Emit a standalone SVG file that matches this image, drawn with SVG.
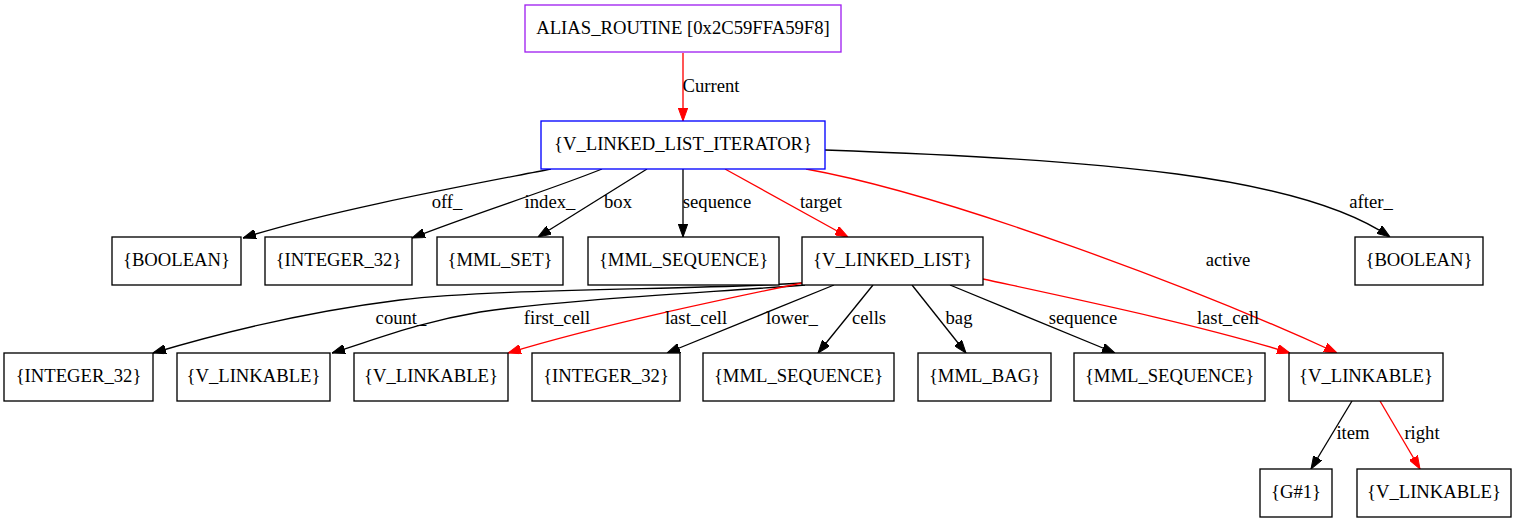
<svg xmlns="http://www.w3.org/2000/svg" width="1516" height="523" viewBox="0 0 1516 523">
<style>
.n{fill:#fff;stroke:#000;stroke-width:1.33}
.t{font-family:'Liberation Serif','DejaVu Serif',serif;font-size:18.67px;fill:#000;text-anchor:middle}
.e{fill:none;stroke:#000;stroke-width:1.33;marker-end:url(#ab)}
.r{fill:none;stroke:#f00;stroke-width:1.33;marker-end:url(#ar)}
</style>
<defs>
<marker id="ab" markerUnits="userSpaceOnUse" viewBox="0 0 13 9.4" markerWidth="13" markerHeight="9.4" refX="13" refY="4.7" orient="auto"><path d="M0,0 L13,4.7 L0,9.4 z" fill="#000" stroke="#000" stroke-width="1"/></marker>
<marker id="ar" markerUnits="userSpaceOnUse" viewBox="0 0 13 9.4" markerWidth="13" markerHeight="9.4" refX="13" refY="4.7" orient="auto"><path d="M0,0 L13,4.7 L0,9.4 z" fill="#f00" stroke="#f00" stroke-width="1"/></marker>
</defs>
<rect width="1516" height="523" fill="#fff"/>
<g id="edges">
<path class="r" d="M683,53 L683,121"/>
<path class="e" d="M551,169 C480,183 330,210 243,238"/>
<path class="e" d="M602,169 C550,190 470,215 412,238"/>
<path class="e" d="M647,169 L538,237"/>
<path class="e" d="M683,169 L683,237"/>
<path class="r" d="M725,169 L848,237"/>
<path class="r" d="M806,169 C950,195 1200,290 1337,353"/>
<path class="e" d="M825,150 C1100,160 1300,175 1390,237"/>
<path class="e" d="M802,283 C700,290 500,288 400,300 C320,310 230,330 153,353"/>
<path class="e" d="M805,285 C700,293 560,300 480,312 C420,322 380,338 332,353"/>
<path class="r" d="M802,283 C720,300 600,325 508,353"/>
<path class="e" d="M834,285 L667,353"/>
<path class="e" d="M873,285 L818,353"/>
<path class="e" d="M912,285 L966,353"/>
<path class="e" d="M950,285 L1115,353"/>
<path class="r" d="M983,279 C1080,300 1200,325 1290,353"/>
<path class="e" d="M1352,401 L1311,469"/>
<path class="r" d="M1380,401 L1420,469"/>
<text class="t" x="711" y="92">Current</text>
<text class="t" x="447" y="208">off_</text>
<text class="t" x="550" y="208">index_</text>
<text class="t" x="618" y="208">box</text>
<text class="t" x="717" y="208">sequence</text>
<text class="t" x="821" y="208">target</text>
<text class="t" x="1228" y="266">active</text>
<text class="t" x="1371" y="208">after_</text>
<text class="t" x="401" y="324">count_</text>
<text class="t" x="557" y="324">first_cell</text>
<text class="t" x="696" y="324">last_cell</text>
<text class="t" x="792" y="324">lower_</text>
<text class="t" x="869" y="324">cells</text>
<text class="t" x="959" y="324">bag</text>
<text class="t" x="1083" y="324">sequence</text>
<text class="t" x="1228" y="324">last_cell</text>
<text class="t" x="1353" y="439">item</text>
<text class="t" x="1422" y="439">right</text>
</g>
<g id="alias"><rect class="n" x="525" y="5" width="316" height="47" style="stroke:#a020f0"/><text class="t" x="683" y="34">ALIAS_ROUTINE [0x2C59FFA59F8]</text></g>
<g id="iter"><rect class="n" x="541" y="121" width="284" height="48" style="stroke:#00f"/><text class="t" x="683" y="150">{V_LINKED_LIST_ITERATOR}</text></g>
<g id="bool1"><rect class="n" x="112" y="237" width="129" height="48"/><text class="t" x="176.5" y="266">{BOOLEAN}</text></g>
<g id="int1"><rect class="n" x="265" y="237" width="147" height="48"/><text class="t" x="338.5" y="266">{INTEGER_32}</text></g>
<g id="set"><rect class="n" x="437" y="237" width="126" height="48"/><text class="t" x="500" y="266">{MML_SET}</text></g>
<g id="seq1"><rect class="n" x="588" y="237" width="191" height="48"/><text class="t" x="683.5" y="266">{MML_SEQUENCE}</text></g>
<g id="list"><rect class="n" x="802" y="237" width="181" height="48"/><text class="t" x="892.5" y="266">{V_LINKED_LIST}</text></g>
<g id="bool2"><rect class="n" x="1355" y="237" width="128" height="48"/><text class="t" x="1419" y="266">{BOOLEAN}</text></g>
<g id="int2"><rect class="n" x="4" y="353" width="149" height="48"/><text class="t" x="78.5" y="382">{INTEGER_32}</text></g>
<g id="lk1"><rect class="n" x="177" y="353" width="153" height="48"/><text class="t" x="253.5" y="382">{V_LINKABLE}</text></g>
<g id="lk2"><rect class="n" x="354" y="353" width="154" height="48"/><text class="t" x="431" y="382">{V_LINKABLE}</text></g>
<g id="int3"><rect class="n" x="532" y="353" width="148" height="48"/><text class="t" x="606" y="382">{INTEGER_32}</text></g>
<g id="seq2"><rect class="n" x="703" y="353" width="191" height="48"/><text class="t" x="798.5" y="382">{MML_SEQUENCE}</text></g>
<g id="bag"><rect class="n" x="918" y="353" width="133" height="48"/><text class="t" x="984.5" y="382">{MML_BAG}</text></g>
<g id="seq3"><rect class="n" x="1074" y="353" width="191" height="48"/><text class="t" x="1169.5" y="382">{MML_SEQUENCE}</text></g>
<g id="lk3"><rect class="n" x="1289" y="353" width="154" height="48"/><text class="t" x="1366" y="382">{V_LINKABLE}</text></g>
<g id="g1"><rect class="n" x="1260" y="469" width="72" height="48"/><text class="t" x="1296" y="498">{G#1}</text></g>
<g id="lk4"><rect class="n" x="1357" y="469" width="154" height="48"/><text class="t" x="1434" y="498">{V_LINKABLE}</text></g>
</svg>
